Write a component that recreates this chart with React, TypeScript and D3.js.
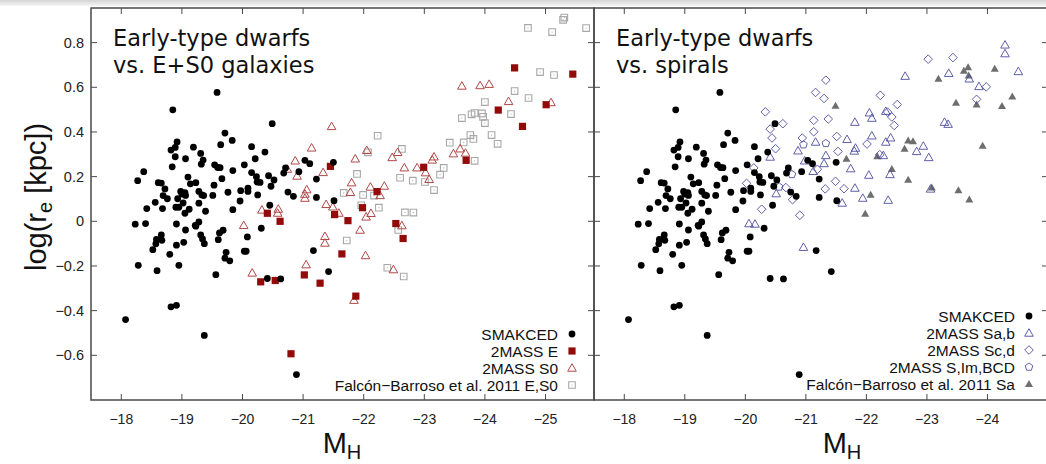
import React from 'react';
import * as d3 from 'd3';

type P = [number, number];

const smakced: P[] = [[-19.58,0.577],[-18.85,0.499],[-20.49,0.437],[-19.71,0.395],[-19.83,0.362],[-19.64,0.343],[-18.92,0.355],[-18.82,0.319],[-18.89,0.331],[-18.89,0.289],[-19.19,0.332],[-19.31,0.304],[-19.35,0.274],[-19.32,0.256],[-19.06,0.280],[-18.84,0.244],[-20.15,0.334],[-20.37,0.310],[-20.21,0.280],[-20.03,0.253],[-19.54,0.253],[-19.59,0.241],[-19.63,0.240],[-19.84,0.227],[-18.37,0.222],[-18.27,0.182],[-18.61,0.173],[-18.66,0.171],[-19.10,0.198],[-19.14,0.168],[-19.23,0.173],[-19.66,0.191],[-20.15,0.218],[-20.23,0.200],[-20.24,0.176],[-20.29,0.174],[-20.43,0.204],[-20.52,0.185],[-20.47,0.157],[-20.68,0.216],[-20.71,0.239],[-20.93,0.222],[-21.03,0.273],[-21.11,0.258],[-21.22,0.189],[-21.50,0.264],[-18.72,0.145],[-18.69,0.115],[-18.76,0.101],[-18.68,0.057],[-18.56,0.085],[-18.42,0.057],[-18.98,0.134],[-19.00,0.122],[-19.05,0.128],[-19.06,0.116],[-18.93,0.101],[-18.90,0.063],[-18.95,0.063],[-19.02,0.082],[-19.05,0.036],[-19.12,0.054],[-19.28,0.134],[-19.33,0.118],[-19.36,0.115],[-19.28,0.081],[-19.39,0.045],[-19.51,0.116],[-19.53,0.162],[-19.76,0.130],[-19.97,0.137],[-20.09,0.148],[-20.09,0.134],[-20.25,0.118],[-19.96,0.091],[-19.84,0.052],[-20.45,0.072],[-20.75,0.131],[-20.84,0.112],[-21.22,0.107],[-21.51,0.092],[-18.23,-0.013],[-18.40,-0.010],[-18.91,-0.012],[-19.06,-0.039],[-19.23,-0.022],[-19.28,-0.003],[-19.22,-0.018],[-19.31,-0.061],[-19.34,-0.079],[-19.37,-0.100],[-19.68,-0.040],[-19.62,-0.052],[-19.60,-0.082],[-20.08,-0.070],[-20.31,-0.031],[-20.03,-0.134],[-20.06,-0.134],[-19.73,-0.139],[-19.71,-0.165],[-19.79,-0.177],[-18.66,-0.061],[-18.58,-0.081],[-18.67,-0.085],[-18.57,-0.101],[-18.52,-0.127],[-18.91,-0.107],[-19.03,-0.094],[-18.80,-0.148],[-18.28,-0.197],[-18.59,-0.221],[-18.95,-0.197],[-19.56,-0.239],[-20.41,-0.256],[-20.63,-0.258],[-21.17,-0.131],[-21.42,-0.225],[-18.82,-0.383],[-18.91,-0.376],[-18.07,-0.440],[-19.37,-0.511],[-20.89,-0.686]];

const twoMassE: P[] = [[-20.41,0.036],[-20.62,0.000],[-20.30,-0.271],[-20.54,-0.265],[-21.02,-0.240],[-21.28,-0.277],[-20.80,-0.593],[-21.45,0.246],[-21.52,0.030],[-21.74,0.003],[-21.98,0.061],[-22.22,0.133],[-22.99,0.242],[-23.69,0.273],[-22.53,-0.010],[-22.65,-0.077],[-21.64,-0.146],[-21.87,-0.335],[-24.22,0.498],[-24.49,0.687],[-24.62,0.425],[-25.01,0.522],[-25.45,0.659]];

const twoMassS0: P[] = [[-21.47,0.425],[-21.14,0.329],[-20.87,0.271],[-20.74,0.234],[-20.90,0.203],[-21.33,0.219],[-21.06,0.142],[-21.03,0.122],[-21.03,0.104],[-21.38,0.076],[-21.49,0.065],[-21.59,0.037],[-20.32,0.051],[-20.59,0.055],[-20.58,0.037],[-20.02,-0.018],[-21.36,-0.067],[-21.36,-0.097],[-21.05,-0.194],[-20.16,-0.231],[-21.84,-0.353],[-21.86,0.280],[-22.05,0.318],[-21.80,0.173],[-21.78,0.130],[-22.11,0.154],[-22.34,0.158],[-22.27,0.116],[-22.04,0.020],[-22.12,0.036],[-21.94,-0.039],[-22.03,-0.153],[-22.47,0.286],[-22.56,0.309],[-22.67,0.240],[-22.88,0.240],[-23.02,0.218],[-23.08,0.188],[-23.13,0.275],[-23.16,0.289],[-22.63,-0.019],[-22.49,-0.216],[-23.48,0.303],[-23.59,0.325],[-23.68,0.306],[-23.62,0.606],[-23.92,0.608],[-24.07,0.614],[-24.39,0.537],[-25.09,0.532]];

const falconES0: P[] = [[-22.23,0.383],[-22.07,0.309],[-22.63,0.324],[-21.89,0.212],[-21.67,0.127],[-21.99,0.118],[-22.17,0.115],[-21.96,0.072],[-22.25,0.061],[-21.72,-0.086],[-22.60,0.195],[-22.81,0.182],[-23.01,0.176],[-23.16,0.140],[-23.26,0.209],[-23.32,0.239],[-22.68,0.040],[-22.82,0.039],[-22.57,-0.039],[-22.39,-0.208],[-22.66,-0.247],[-23.42,0.352],[-23.65,0.353],[-23.76,0.386],[-23.81,0.369],[-23.62,0.462],[-23.78,0.479],[-23.83,0.485],[-23.95,0.483],[-23.97,0.468],[-24.00,0.440],[-24.00,0.534],[-24.11,0.386],[-24.21,0.347],[-23.83,0.271],[-24.49,0.583],[-24.43,0.480],[-24.72,0.552],[-24.91,0.668],[-25.14,0.655],[-24.71,0.866],[-25.11,0.847],[-25.29,0.902],[-25.31,0.912],[-25.67,0.865]];

const twoMassSab: P[] = [[-24.29,0.790],[-24.29,0.751],[-24.51,0.671],[-23.70,0.638],[-23.36,0.663],[-22.64,0.650],[-23.86,0.604],[-21.81,0.444],[-22.05,0.486],[-22.09,0.462],[-22.32,0.493],[-21.16,0.355],[-21.68,0.367],[-22.09,0.383],[-22.32,0.355],[-22.40,0.374],[-21.82,0.328],[-21.80,0.315],[-21.33,0.295],[-20.87,0.316],[-20.98,0.271],[-21.12,0.224],[-21.30,0.259],[-21.74,0.236],[-22.04,0.207],[-22.39,0.210],[-22.28,0.295],[-22.83,0.313],[-22.94,0.337],[-23.03,0.286],[-23.29,0.444],[-23.35,0.435],[-23.06,0.145],[-22.36,0.095],[-21.94,0.104],[-21.81,0.149],[-21.60,0.082],[-20.51,0.124],[-20.41,0.288],[-20.06,-0.010],[-20.16,-0.012],[-20.96,-0.116]];

const twoMassScd: P[] = [[-23.02,0.726],[-23.43,0.733],[-23.98,0.602],[-23.82,0.546],[-21.33,0.632],[-21.16,0.577],[-21.30,0.550],[-20.33,0.490],[-20.62,0.437],[-20.41,0.413],[-20.44,0.373],[-20.50,0.325],[-21.13,0.452],[-21.37,0.458],[-22.23,0.564],[-22.51,0.523],[-22.35,0.489],[-22.42,0.467],[-22.46,0.429],[-21.13,0.401],[-20.94,0.373],[-21.51,0.380],[-22.01,0.346],[-21.53,0.313],[-22.22,0.298],[-21.19,0.233],[-21.49,0.179],[-21.63,0.146],[-21.32,0.145],[-20.14,0.239],[-20.02,0.170],[-20.78,0.097],[-20.27,0.054],[-20.90,0.027],[-20.67,0.151]];

const twoMassSIm: P[] = [[-20.96,0.343],[-21.33,0.349],[-20.77,0.210],[-20.56,0.154]];

const falconSa: P[] = [[-23.68,0.690],[-23.61,0.674],[-23.69,0.653],[-24.12,0.683],[-23.19,0.638],[-23.82,0.523],[-23.48,0.531],[-24.41,0.559],[-24.24,0.516],[-21.49,0.517],[-21.67,0.280],[-22.42,0.234],[-22.18,0.291],[-22.69,0.362],[-22.77,0.358],[-22.63,0.325],[-23.92,0.338],[-22.69,0.186],[-23.08,0.151],[-23.52,0.139],[-23.70,0.098],[-22.07,0.119],[-21.98,0.034]];

const xTicksLeft = [-18, -19, -20, -21, -22, -23, -24, -25];
const xTicksRight = [-18, -19, -20, -21, -22, -23, -24];
const yTicks = [-0.6, -0.4, -0.2, 0, 0.2, 0.4, 0.6, 0.8];

const legendLeft = ['SMAKCED', '2MASS E', '2MASS S0', 'Falcón\u2212Barroso et al. 2011 E,S0'];
const legendRight = ['SMAKCED', '2MASS Sa,b', '2MASS Sc,d', '2MASS S,Im,BCD', 'Falcón\u2212Barroso et al. 2011 Sa'];

const W = 1046, H = 464;
const TOP = 8, BOT = 400;
const C_E = '#930a0a';
const C_S0 = '#b04848';
const C_F = '#a8a8a8';
const C_B = '#4e4ea0';
const C_G = '#6e6e6e';
const AX = '#4a4a4a';
const TXT = "'Liberation Sans', Arial, sans-serif";

const fmt = (v: number) => (v < 0 ? '\u2212' : '') + String(Math.abs(v));

function tri(cx: number, cy: number, s = 4.3) {
  return `M${cx},${cy - s}L${cx + s},${cy + s * 0.75}L${cx - s},${cy + s * 0.75}Z`;
}
function sq(cx: number, cy: number, h = 3.5) {
  return `M${cx - h},${cy - h}h${2 * h}v${2 * h}h${-2 * h}Z`;
}
function dia(cx: number, cy: number, h = 4.3) {
  return `M${cx},${cy - h}L${cx + h},${cy}L${cx},${cy + h}L${cx - h},${cy}Z`;
}
function pent(cx: number, cy: number, r = 4) {
  const pts = d3.range(5).map(i => {
    const a = -Math.PI / 2 + (i * 2 * Math.PI) / 5;
    return [cx + r * Math.cos(a), cy + r * Math.sin(a)];
  });
  return 'M' + pts.map(p => p.join(',')).join('L') + 'Z';
}

type Marker = 'dot' | 'sqE' | 'triS0' | 'sqF' | 'triB' | 'diaB' | 'pentB' | 'triG';

function Mark({ t, x, y }: { t: Marker; x: number; y: number }) {
  switch (t) {
    case 'dot': return <circle cx={x} cy={y} r={3.4} fill="#000" />;
    case 'sqE': return <path d={sq(x, y, 3.6)} fill={C_E} />;
    case 'triS0': return <path d={tri(x, y)} fill="none" stroke={C_S0} strokeWidth={1} />;
    case 'sqF': return (<g><path d={sq(x, y, 3.3)} fill="none" stroke={C_F} strokeWidth={1.1} /><circle cx={x} cy={y} r={0.6} fill={C_F} /></g>);
    case 'triB': return <path d={tri(x, y)} fill="none" stroke={C_B} strokeWidth={0.9} />;
    case 'diaB': return <path d={dia(x, y)} fill="none" stroke={C_B} strokeWidth={0.9} />;
    case 'pentB': return <path d={pent(x, y)} fill="none" stroke={C_B} strokeWidth={0.9} />;
    case 'triG': return <path d={tri(x, y, 4)} fill={C_G} />;
  }
  return null;
}

const yScale = d3.scaleLinear().domain([-0.8, 0.955]).range([BOT, TOP]);

function Panel({ x0, x1, domain, ticks, series, title, legend, legendMarks, legendX, legendY, showYLabels, labelX }: any) {
  const xs = d3.scaleLinear().domain(domain).range([x0, x1]);
  const tl = 6;
  return (
    <g>
      {series.map((s: any, si: number) => (
        <g key={si}>
          {s.data.map((d: P, i: number) => <Mark key={i} t={s.t} x={xs(d[0])} y={yScale(d[1])} />)}
        </g>
      ))}
      {ticks.map((t: number) => (
        <g key={t}>
          <line x1={xs(t)} x2={xs(t)} y1={TOP} y2={TOP + tl} stroke={AX} strokeWidth={1} />
          <line x1={xs(t)} x2={xs(t)} y1={BOT} y2={BOT - tl} stroke={AX} strokeWidth={1} />
          <text x={xs(t)} y={423.5} textAnchor="middle" fontFamily={TXT} fontSize={14} fill="#222">{fmt(t)}</text>
        </g>
      ))}
      {yTicks.map(t => (
        <g key={t}>
          <line x1={x0} x2={x0 + tl} y1={yScale(t)} y2={yScale(t)} stroke={AX} strokeWidth={1} />
          <line x1={x1} x2={x1 - tl} y1={yScale(t)} y2={yScale(t)} stroke={AX} strokeWidth={1} />
          {showYLabels && <text x={84} y={yScale(t) + 5} textAnchor="end" fontFamily={TXT} fontSize={14.5} fill="#222">{fmt(t)}</text>}
        </g>
      ))}
      <rect x={x0} y={TOP} width={x1 - x0} height={BOT - TOP} fill="none" stroke={AX} strokeWidth={1.5} />
      <text fontFamily="'DejaVu Sans', sans-serif" fontSize={22.5} fill="#111">
        <tspan x={x0 + 22} y={46}>{title[0]}</tspan>
        <tspan x={x0 + 22} y={72.5}>{title[1]}</tspan>
      </text>
      {legend.map((l: string, i: number) => (
        <g key={l}>
          <text x={legendX} y={legendY[i] + 5.5} textAnchor="end" fontFamily={TXT} fontSize={15.5} fill="#111">{l}</text>
          <Mark t={legendMarks[i]} x={legendX + 14} y={legendY[i]} />
        </g>
      ))}
      <text x={labelX} y={453} textAnchor="middle" fontFamily={TXT} fontSize={29} fill="#111">
        M<tspan fontSize={20} dy={6}>H</tspan>
      </text>
    </g>
  );
}

export default function App() {
  return (
    <svg width={W} height={H} style={{ position: 'absolute', left: 0, top: 0, background: '#fff' }}>
      <defs>
        <linearGradient id="topband" x1="0" y1="0" x2="0" y2="1">
          <stop offset="0" stopColor="#d4d4d4" />
          <stop offset="1" stopColor="#f6f6f6" />
        </linearGradient>
      </defs>
      <rect x={0} y={0} width={W} height={H} fill="#fff" />
      <rect x={0} y={0} width={W} height={6} fill="url(#topband)" />
      <Panel x0={91} x1={594} domain={[-17.5, -25.8]} ticks={xTicksLeft}
        series={[{ t: 'sqF', data: falconES0 }, { t: 'triS0', data: twoMassS0 }, { t: 'sqE', data: twoMassE }, { t: 'dot', data: smakced }]}
        title={['Early-type dwarfs', 'vs. E+S0 galaxies']}
        legend={legendLeft} legendMarks={['dot', 'sqE', 'triS0', 'sqF']} legendX={558} legendY={[334, 351, 368, 385]} showYLabels labelX={342} />
      <Panel x0={594} x1={1048} domain={[-17.5, -25.0]} ticks={xTicksRight}
        series={[{ t: 'triG', data: falconSa }, { t: 'triB', data: twoMassSab }, { t: 'diaB', data: twoMassScd }, { t: 'pentB', data: twoMassSIm }, { t: 'dot', data: smakced }]}
        title={['Early-type dwarfs', 'vs. spirals']}
        legend={legendRight} legendMarks={['dot', 'triB', 'diaB', 'pentB', 'triG']} legendX={1015} legendY={[316, 333, 350, 367, 384]} labelX={842} />
      <text transform="translate(46,197) rotate(-90)" textAnchor="middle" fontFamily={TXT} fontSize={29} fill="#111">
        log(r<tspan fontSize={20} dy={6}>e</tspan><tspan dy={-6}> [kpc])</tspan>
      </text>
    </svg>
  );
}
